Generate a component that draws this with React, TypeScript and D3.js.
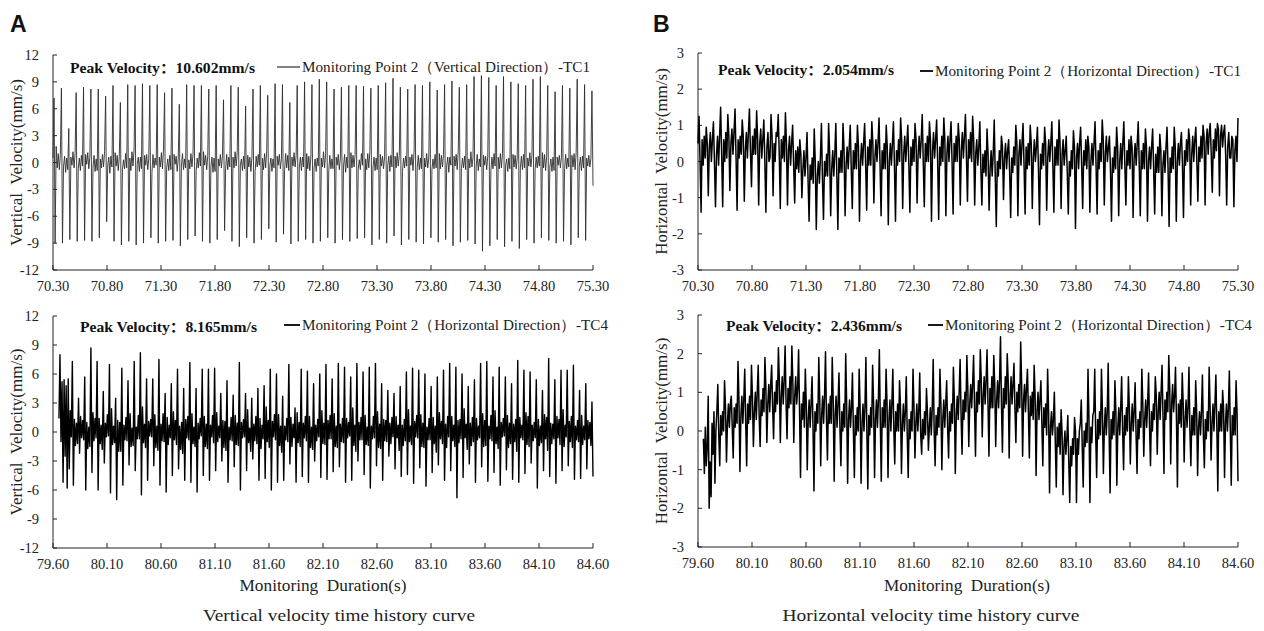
import React from 'react';
import * as d3 from 'd3';

// tick values
const topTimeTicks = [70.3, 70.8, 71.3, 71.8, 72.3, 72.8, 73.3, 73.8, 74.3, 74.8, 75.3];
const bottomTimeTicks = [79.6, 80.1, 80.6, 81.1, 81.6, 82.1, 82.6, 83.1, 83.6, 84.1, 84.6];
const verticalTicks = [-12, -9, -6, -3, 0, 3, 6, 9, 12];
const horizontalTicks = [-3, -2, -1, 0, 1, 2, 3];

// velocity samples (mm/s), equally spaced between first and last time
const vertTC1Span = [70.3, 75.3];
const vertTC1 = [
  0.5, 7.2, -9.0, 1.8, -0.6, 1.0, -0.8, 0.9, 8.3, -9.0, -0.4, 0.7, -1.1, 0.5,
  -0.8, 3.8, -8.6, 0.6, -0.3, 1.2, -0.6, 1.0, 7.8, -8.8, -0.7, 0.5, -0.9, 0.8,
  -0.4, 8.4, -8.7, 0.9, -0.2, 1.1, -0.7, 0.6, 8.2, -8.8, -0.5, 0.8, -1.0, 0.4,
  -0.9, 8.2, -8.4, 0.4, -0.6, 0.9, -0.5, 1.2, 7.4, -6.6, -0.3, 0.6, -1.2, 0.7,
  -0.5, 8.6, -8.8, 1.1, -0.4, 0.8, -0.9, 0.7, 6.7, -9.2, -0.8, 0.3, -0.7, 1.0,
  -0.6, 8.7, -8.8, 0.5, -0.9, 1.2, -0.4, 1.4, 8.6, -9.2, -0.2, 0.6, -1.0, 0.6,
  -0.7, 8.8, -9.0, 0.8, -0.3, 0.9, -0.8, 0.4, 8.6, -8.4, -1.1, 0.9, -0.6, 0.5,
  -0.3, 8.7, -9.0, 0.6, -0.5, 1.1, -0.7, 1.5, 7.8, -8.8, -0.6, 0.4, -0.9, 0.8,
  -0.8, 8.3, -8.7, 0.9, -0.2, 0.7, -1.0, 0.5, 6.5, -9.3, -0.4, 1.0, -0.8, 0.4,
  -0.6, 8.7, -8.6, 0.3, -0.7, 1.0, -0.5, 0.9, 8.6, -8.2, -0.9, 0.5, -0.6, 1.1,
  -0.4, 8.6, -8.8, 1.2, -0.3, 0.8, -0.8, 0.7, 8.2, -9.0, -0.5, 0.6, -1.1, 0.5,
  -1.0, 8.6, -8.6, 0.4, -0.4, 0.9, -0.6, 0.8, 7.0, -7.6, -0.7, 0.9, -0.8, 0.6,
  -0.5, 8.6, -8.8, 0.6, -0.6, 1.2, -0.4, 1.1, 8.4, -9.4, -0.3, 0.4, -0.9, 0.7,
  -0.7, 6.3, -8.4, 0.8, -0.5, 0.6, -1.0, 0.6, 8.2, -9.0, -1.0, 0.7, -0.5, 0.9,
  -0.3, 8.6, -8.6, 0.5, -0.8, 1.0, -0.6, 1.3, 7.5, -7.4, -0.4, 0.5, -1.0, 0.4,
  -0.6, 8.8, -8.9, 0.7, -0.3, 0.9, -0.7, 0.4, 8.7, -8.0, -0.8, 1.0, -0.6, 0.8,
  -0.9, 6.7, -9.1, 0.6, -0.4, 1.1, -0.5, 0.8, 8.6, -8.8, -0.5, 0.6, -0.9, 0.6,
  -0.5, 9.0, -8.6, 1.0, -0.7, 0.7, -0.9, 0.7, 8.7, -9.0, -0.6, 0.4, -1.0, 0.5,
  -0.4, 9.3, -8.8, 0.5, -0.5, 1.2, -0.6, 1.0, 9.0, -8.4, -0.9, 0.8, -0.7, 0.4,
  -0.7, 8.2, -9.0, 0.6, -0.3, 0.9, -0.8, 0.5, 8.4, -8.6, -0.4, 0.9, -1.1, 0.6,
  -0.6, 8.6, -8.8, 1.1, -0.6, 0.8, -0.5, 0.9, 8.6, -8.5, -0.7, 0.3, -0.8, 1.0,
  -0.3, 8.5, -8.4, 0.4, -0.8, 1.0, -0.6, 1.2, 8.3, -9.2, -0.5, 0.6, -0.9, 0.5,
  -0.8, 8.6, -8.6, 0.9, -0.4, 0.7, -0.7, 0.6, 8.9, -9.0, -0.3, 0.7, -1.0, 0.8,
  -0.5, 9.4, -8.2, 0.7, -0.6, 1.1, -0.4, 0.8, 8.4, -9.2, -1.0, 0.5, -0.6, 0.7,
  -0.4, 8.2, -8.6, 0.6, -0.3, 0.9, -0.9, 1.1, 8.7, -8.9, -0.6, 0.8, -0.8, 0.5,
  -0.7, 8.6, -9.1, 0.5, -0.5, 1.0, -0.6, 0.5, 9.0, -8.4, -0.8, 0.4, -0.7, 0.9,
  -0.6, 8.1, -8.9, 1.0, -0.7, 0.8, -0.5, 0.9, 8.7, -8.6, -0.4, 0.6, -1.1, 0.6,
  -0.3, 9.1, -9.3, 0.7, -0.4, 0.9, -0.8, 1.3, 8.4, -8.9, -0.7, 0.5, -0.6, 0.7,
  -0.8, 8.7, -8.7, 0.4, -0.6, 1.2, -0.5, 0.6, 9.6, -9.1, -0.5, 0.9, -0.9, 0.4,
  -0.5, 9.7, -9.9, 0.8, -0.3, 0.7, -0.8, 0.7, 9.5, -9.3, -0.9, 0.6, -0.7, 1.0,
  -0.4, 8.6, -8.6, 0.6, -0.7, 1.0, -0.6, 1.0, 9.6, -9.4, -0.3, 0.4, -1.0, 0.5,
  -0.7, 9.0, -8.8, 0.9, -0.5, 0.8, -0.7, 0.5, 8.8, -9.6, -0.6, 0.7, -0.8, 0.9,
  -0.6, 8.6, -8.6, 0.5, -0.4, 1.1, -0.5, 0.8, 9.3, -9.0, -0.8, 0.6, -0.6, 0.7,
  -0.4, 9.6, -8.4, 1.1, -0.6, 0.9, -0.9, 0.7, 8.6, -8.7, -0.5, 0.4, -1.0, 0.6,
  -0.9, 7.9, -9.0, 0.6, -0.3, 0.8, -0.6, 0.6, 8.6, -8.8, -0.7, 0.9, -0.7, 0.5,
  -0.5, 8.3, -9.2, 0.8, -0.5, 1.0, -0.8, 1.1, 9.3, -8.4, -0.4, 0.6, -0.9, 0.7,
  -0.6, 8.7, -8.7, 0.5, -0.4, 0.8, -0.5, 0.4, 8.0, -2.6,
];

const vertTC4Span = [79.655, 84.6];
const vertTC4 = [
  1.4, 8.0, -1.0, 5.2, -5.2, 5.4, -2.5, 4.8, -5.8, 5.5, -3.8, 2.2,
  -0.5, 7.3, -5.5, 1.3, -1.4, 0.9, -1.2, 3.5, -2.2, 1.6, -0.6, 1.2,
  -0.8, 5.7, -6.0, 1.0, -1.7, 0.5, -1.5, 8.7, -4.2, 2.0, -0.9, 1.4,
  -0.6, 7.3, -6.0, 1.4, -1.2, 0.7, -1.8, 4.2, -3.2, 0.9, -0.5, 1.8,
  -0.4, 7.0, -6.3, 2.4, -1.3, 0.6, -1.1, 3.5, -7.0, 1.2, -2.0, 1.0,
  -2.0, 6.6, -5.5, 0.7, -0.8, 1.5, -0.9, 5.3, -3.4, 1.9, -1.5, 0.4,
  -1.4, 7.3, -4.0, 0.5, -0.7, 1.7, -0.7, 8.2, -6.5, 2.6, -1.1, 0.8,
  -1.6, 5.5, -5.0, 1.1, -0.4, 1.3, -0.5, 5.5, -3.5, 1.8, -1.6, 0.6,
  -1.9, 7.5, -5.5, 0.8, -0.9, 1.9, -1.0, 4.0, -6.2, 1.5, -1.3, 0.7,
  -0.6, 5.0, -4.5, 2.1, -0.8, 1.2, -1.3, 6.5, -3.8, 0.6, -1.8, 1.0,
  -2.2, 4.5, -5.0, 1.3, -0.6, 1.6, -0.8, 7.2, -5.2, 1.9, -1.2, 0.5,
  -1.5, 4.5, -6.2, 0.9, -0.7, 1.4, -0.4, 6.5, -4.5, 1.6, -1.5, 0.8,
  -1.7, 6.5, -5.0, 0.7, -0.5, 1.7, -1.1, 6.6, -4.0, 2.0, -1.0, 0.6,
  -0.6, 4.0, -3.0, 1.2, -1.6, 1.1, -1.9, 5.3, -5.2, 0.5, -0.8, 1.5,
  -0.9, 3.8, -3.6, 1.7, -1.3, 0.9, -1.4, 7.2, -6.0, 1.0, -0.6, 1.3,
  -0.5, 4.0, -4.0, 2.3, -1.1, 0.4, -2.0, 3.5, -2.8, 0.8, -0.9, 1.6,
  -1.2, 4.5, -5.0, 1.4, -1.7, 0.7, -0.7, 4.8, -4.8, 2.6, -1.0, 1.2,
  -1.6, 6.5, -6.0, 1.1, -0.5, 1.8, -0.8, 6.0, -5.2, 1.8, -1.4, 0.6,
  -2.1, 3.7, -5.0, 0.6, -0.8, 1.4, -1.0, 7.0, -3.3, 1.5, -1.5, 0.8,
  -0.6, 2.5, -5.2, 2.0, -1.1, 1.0, -1.5, 6.5, -4.6, 0.9, -0.6, 1.6,
  -0.9, 6.3, -5.2, 1.6, -1.6, 0.5, -1.8, 5.0, -3.0, 0.7, -0.9, 1.3,
  -0.5, 6.0, -4.7, 2.2, -1.2, 0.9, -1.3, 7.0, -4.9, 1.2, -0.7, 1.7,
  -0.7, 5.5, -4.1, 1.9, -1.5, 0.6, -1.6, 7.1, -3.6, 0.8, -1.0, 1.4,
  -1.1, 6.7, -5.2, 1.4, -0.6, 1.0, -0.4, 5.7, -5.0, 2.5, -1.4, 0.7,
  -2.0, 7.1, -3.0, 1.0, -0.8, 1.5, -0.8, 6.2, -4.4, 1.7, -1.3, 0.5,
  -1.4, 6.7, -5.8, 0.6, -0.7, 1.6, -0.6, 7.1, -3.5, 2.1, -1.6, 0.8,
  -1.7, 5.0, -5.0, 1.3, -0.9, 1.2, -1.0, 4.3, -2.5, 0.9, -1.2, 1.5,
  -0.5, 4.0, -3.8, 1.6, -0.6, 0.7, -1.9, 4.7, -4.6, 0.7, -1.4, 1.3,
  -0.9, 6.2, -4.4, 2.3, -1.0, 0.6, -1.3, 6.6, -5.3, 1.1, -0.5, 1.7,
  -0.6, 6.4, -3.7, 1.8, -1.5, 0.9, -1.6, 6.0, -5.6, 0.5, -0.8, 1.4,
  -0.8, 4.7, -4.2, 1.5, -1.2, 0.6, -2.1, 5.7, -3.4, 2.0, -0.7, 1.1,
  -1.2, 6.4, -5.0, 0.8, -1.6, 1.6, -0.5, 7.1, -4.0, 1.6, -0.9, 0.7,
  -1.5, 6.7, -6.8, 1.2, -1.1, 1.3, -0.7, 6.0, -4.7, 2.4, -0.6, 0.8,
  -1.8, 4.7, -3.3, 0.9, -1.4, 1.5, -1.0, 5.4, -5.2, 1.4, -0.8, 0.6,
  -0.6, 7.1, -3.6, 1.9, -1.5, 1.2, -1.4, 7.3, -5.1, 0.6, -0.7, 1.7,
  -0.9, 5.7, -4.2, 2.2, -1.2, 0.5, -1.7, 6.7, -5.5, 1.0, -0.5, 1.4,
  -0.4, 5.7, -3.9, 1.7, -1.6, 0.9, -1.2, 5.0, -4.9, 0.8, -1.0, 1.3,
  -2.0, 7.4, -5.2, 1.5, -0.6, 0.7, -0.8, 6.4, -4.3, 2.0, -1.3, 1.6,
  -1.5, 6.2, -3.2, 0.7, -0.9, 1.0, -0.6, 5.4, -5.8, 1.3, -1.4, 0.6,
  -1.1, 4.3, -4.0, 1.8, -0.7, 1.5, -1.9, 7.6, -4.6, 0.9, -1.2, 0.8,
  -0.7, 5.4, -5.3, 1.6, -0.6, 1.3, -1.3, 6.4, -4.0, 2.3, -1.5, 0.7,
  -0.5, 6.4, -3.5, 1.1, -1.0, 1.6, -1.6, 6.9, -4.9, 0.6, -0.8, 1.2,
  -1.0, 4.3, -4.8, 1.7, -1.3, 0.6, -0.8, 5.0, -3.8, 1.2, -0.7, 1.0,
  -1.4, 3.1, -4.6,
];

const horTC1Span = [70.3, 75.3];
const horTC1 = [
  0.5, 1.25, 0.0, -1.4, 0.6, -0.1, 0.7, 0.1, 0.95, 0.5, -0.95, 0.4, 0.8, 0.0,
  0.6, 1.1, 0.0, -1.25, 0.2, 0.7, -0.1, 0.7, 1.5, 0.2, -1.25, 0.6, 0.0, 0.8,
  0.1, 1.3, 0.7, -0.8, 0.5, 0.9, 0.2, 0.8, 1.45, 0.1, -1.35, 0.6, 0.1, 0.7,
  0.2, 1.15, 0.7, -1.1, 0.3, 0.8, 0.1, 0.8, 1.45, 0.3, -0.7, 0.7, 0.2, 0.9,
  0.2, 1.4, 0.6, -1.2, 0.5, 0.9, 0.1, 0.6, 1.15, 0.0, -1.4, 0.4, 0.8, 0.0,
  0.1, 1.3, 0.7, -0.95, 0.5, 0.0, 0.8, 0.7, 1.3, 0.2, -1.3, 0.6, 0.1, 0.7,
  0.0, 1.35, 0.5, -1.2, 0.3, 0.7, -0.1, 0.5, 1.0, -0.1, -1.15, 0.3, -0.2, 0.4,
  -0.3, 0.6, 0.2, -1.0, -0.2, 0.3, -0.4, 0.1, 0.8, -0.5, -1.65, -0.1, -0.5, 0.1,
  -0.6, 0.9, 0.0, -1.88, -0.4, 0.0, -0.6, 0.1, 1.05, -0.5, -1.6, 0.0, -0.4, 0.2,
  -0.4, 1.05, 0.2, -1.5, -0.2, 0.3, -0.4, 0.2, 1.05, -0.4, -1.88, 0.1, -0.3, 0.3,
  -0.3, 1.05, 0.3, -1.5, -0.1, 0.4, -0.2, 0.4, 1.0, -0.2, -1.3, 0.3, -0.2, 0.5,
  -0.2, 1.0, 0.4, -1.65, 0.0, 0.5, -0.1, 0.5, 1.05, -0.1, -1.35, 0.4, -0.1, 0.6,
  -0.1, 1.1, 0.5, -1.15, 0.1, 0.6, 0.0, 0.5, 1.2, -0.1, -1.5, 0.3, -0.2, 0.5,
  -0.2, 1.0, 0.4, -1.75, 0.0, 0.5, -0.1, 0.5, 1.1, -0.1, -1.65, 0.3, -0.1, 0.6,
  0.0, 1.2, 0.6, -1.3, 0.2, 0.7, 0.0, 0.5, 1.0, -0.1, -1.4, 0.4, -0.1, 0.6,
  0.0, 1.05, 0.6, -1.15, 0.2, 0.7, 0.1, 0.6, 1.3, 0.0, -1.25, 0.5, 0.0, 0.7,
  0.0, 1.1, 0.6, -1.65, 0.3, 0.8, 0.1, 0.6, 1.15, 0.0, -1.6, 0.4, -0.1, 0.7,
  0.0, 1.2, 0.6, -1.5, 0.2, 0.7, 0.0, 0.6, 1.1, 0.0, -1.45, 0.5, 0.0, 0.7,
  0.0, 1.05, 0.6, -1.2, 0.3, 0.8, 0.1, 0.7, 1.3, 0.1, -1.1, 0.6, 0.1, 0.8,
  0.0, 1.25, 0.6, -1.2, 0.2, 0.6, -0.1, 0.4, 1.1, -0.2, -1.2, 0.2, -0.3, 0.3,
  -0.4, 0.9, 0.2, -1.35, -0.2, 0.3, -0.4, 0.2, 1.15, -0.4, -1.8, 0.0, -0.4, 0.3,
  -0.2, 0.7, 0.4, -1.05, 0.1, 0.5, -0.2, 0.3, 0.6, -0.3, -1.55, 0.1, -0.3, 0.4,
  -0.1, 1.0, 0.5, -1.5, 0.2, 0.6, -0.1, 0.5, 1.05, -0.1, -1.45, 0.4, -0.2, 0.5,
  -0.1, 1.0, 0.5, -1.3, 0.1, 0.6, 0.0, 0.4, 0.95, -0.2, -1.75, 0.2, -0.2, 0.5,
  -0.1, 0.95, 0.5, -1.35, 0.1, 0.6, 0.0, 0.5, 1.1, -0.1, -1.4, 0.4, -0.1, 0.6,
  -0.1, 1.15, 0.5, -1.3, 0.2, 0.6, -0.1, 0.3, 0.7, -0.3, -1.45, 0.0, -0.4, 0.3,
  -0.2, 0.85, 0.4, -1.85, 0.1, 0.5, -0.2, 0.5, 0.95, -0.1, -1.3, 0.3, -0.1, 0.6,
  -0.2, 0.7, 0.4, -1.4, 0.0, 0.5, -0.1, 0.5, 1.1, -0.1, -1.45, 0.3, -0.2, 0.5,
  0.0, 1.15, 0.6, -1.2, 0.2, 0.7, 0.0, 0.4, 0.7, -0.2, -1.65, 0.1, -0.3, 0.4,
  -0.2, 0.95, 0.4, -1.5, 0.0, 0.5, -0.2, 0.5, 1.1, -0.1, -1.2, 0.3, -0.1, 0.6,
  -0.2, 0.7, 0.4, -1.55, 0.1, 0.5, -0.1, 0.5, 1.1, -0.1, -1.5, 0.3, -0.2, 0.5,
  -0.2, 0.9, 0.4, -1.65, 0.0, 0.4, -0.2, 0.4, 0.9, -0.2, -1.45, 0.2, -0.3, 0.4,
  -0.3, 0.75, 0.3, -1.5, -0.1, 0.3, -0.3, 0.4, 0.95, -0.2, -1.8, 0.1, -0.3, 0.4,
  -0.2, 0.95, 0.4, -1.65, 0.0, 0.5, -0.1, 0.5, 0.8, -0.1, -1.55, 0.3, -0.1, 0.6,
  0.0, 0.9, 0.6, -1.2, 0.2, 0.7, 0.0, 0.6, 0.95, 0.0, -1.1, 0.4, 0.0, 0.7,
  0.1, 1.0, 0.7, -1.2, 0.5, 0.9, 0.2, 0.8, 1.05, 0.2, -0.85, 0.6, 0.1, 0.9,
  0.3, 1.05, 0.9, -0.95, 0.7, 1.0, 0.4, 0.8, 1.0, 0.2, -1.2, 0.4, 0.8, 0.1,
  0.1, 0.7, 0.6, -1.25, 0.3, 0.7, 0.0, 1.2,
];

const horTC4Span = [79.65, 84.6];
const horTC4 = [
  -0.2, -1.1, 0.1, -0.9, -0.4, 0.9, -2.0, -0.8, -1.7, 0.2, -0.6, 0.5, -1.35, 0.0,
  0.5, 1.2, -0.1, -0.9, 0.4, -0.1, 0.5, 0.0, 1.3, 0.6, -0.8, 0.2, 0.7, 0.1,
  0.7, 0.9, 0.1, -0.7, 0.6, 0.1, 0.7, 0.2, 1.8, 0.8, -1.05, 0.4, 0.9, 0.2,
  0.8, 1.6, 0.2, -0.9, 0.7, 0.2, 0.9, 0.3, 1.7, 0.9, -0.4, 0.5, 1.0, 0.3,
  1.0, 1.7, 0.4, -0.4, 0.8, 0.4, 1.1, 0.5, 1.9, 1.1, -0.3, 0.7, 1.2, 0.5,
  1.2, 1.7, 0.6, -0.2, 1.0, 0.5, 1.3, 0.7, 2.15, 1.3, -0.3, 0.9, 1.4, 0.7,
  1.3, 2.2, 0.7, -0.2, 1.1, 0.6, 1.4, 0.7, 2.2, 1.3, -0.3, 0.9, 1.4, 0.7,
  1.1, 2.1, 0.5, -1.2, 0.7, 0.3, 1.0, 0.1, 1.6, 0.7, -1.0, 0.3, 0.8, 0.1,
  0.7, 1.4, 0.1, -1.55, 0.5, 0.0, 0.7, 0.2, 1.9, 0.8, -0.9, 0.4, 0.9, 0.2,
  0.9, 2.05, 0.3, -0.75, 0.7, 0.2, 0.9, 0.2, 1.9, 0.8, -1.3, 0.4, 0.9, 0.1,
  0.7, 1.5, 0.1, -0.9, 0.5, 0.0, 0.7, 0.1, 2.0, 0.7, -1.35, 0.3, 0.8, 0.1,
  0.6, 1.5, 0.0, -1.2, 0.4, -0.1, 0.6, 0.0, 1.6, 0.6, -1.35, 0.2, 0.7, 0.0,
  0.6, 1.9, 0.0, -1.5, 0.4, -0.1, 0.6, 0.1, 1.7, 0.7, -1.2, 0.3, 0.8, 0.1,
  0.8, 2.1, 0.2, -1.3, 0.6, 0.1, 0.8, 0.1, 1.6, 0.7, -1.2, 0.3, 0.8, 0.0,
  0.7, 1.6, 0.1, -0.85, 0.5, 0.0, 0.7, 0.0, 1.3, 0.6, -1.1, 0.2, 0.7, 0.0,
  0.5, 1.4, -0.1, -1.2, 0.3, -0.2, 0.5, 0.0, 1.6, 0.6, -0.7, 0.2, 0.7, 0.0,
  0.5, 1.5, -0.1, -0.6, 0.3, -0.2, 0.5, -0.1, 1.1, 0.5, -0.5, 0.1, 0.6, -0.1,
  0.6, 1.85, 0.0, -0.9, 0.4, -0.1, 0.6, 0.1, 1.6, 0.7, -1.0, 0.3, 0.8, 0.1,
  0.7, 1.3, 0.1, -0.7, 0.5, 0.0, 0.7, 0.2, 1.65, 0.8, -1.1, 0.4, 0.9, 0.3,
  1.0, 1.85, 0.4, -0.6, 0.8, 0.3, 1.0, 0.5, 1.95, 1.1, -0.4, 0.7, 1.2, 0.6,
  1.2, 1.95, 0.6, -0.65, 1.0, 0.5, 1.3, 0.7, 2.1, 1.3, -0.15, 0.9, 1.4, 0.7,
  1.3, 2.1, 0.7, -0.65, 1.1, 0.6, 1.4, 0.6, 1.95, 1.2, -0.4, 0.8, 1.3, 0.6,
  1.3, 2.44, 0.7, -0.55, 1.1, 0.6, 1.4, 0.7, 2.0, 1.3, -0.7, 0.9, 1.4, 0.7,
  1.2, 1.75, 0.6, -0.3, 1.0, 0.5, 1.2, 0.6, 2.3, 1.2, -0.65, 0.8, 1.2, 0.5,
  1.1, 1.6, 0.5, -0.7, 0.9, 0.4, 1.0, 0.3, 1.7, 0.9, -1.15, 0.5, 1.0, 0.3,
  0.8, 1.3, 0.2, -0.9, 0.6, 0.1, 0.7, -0.1, 1.6, 0.5, -1.6, 0.1, 0.5, -0.1,
  0.3, 1.0, -0.3, -1.45, 0.1, -0.4, 0.2, -0.6, 0.55, 0.0, -1.65, -0.4, 0.0, -0.6,
  -0.2, 0.4, -0.8, -1.85, -0.4, -0.9, -0.2, -0.6, 0.35, 0.0, -1.85, -0.2, -0.6, 0.0,
  0.2, 0.8, -0.4, -1.45, 0.0, -0.4, 0.2, -0.3, 1.6, 0.3, -1.85, 0.1, -0.3, 0.4,
  0.5, 1.6, -0.1, -1.2, 0.3, -0.2, 0.5, -0.1, 1.6, 0.5, -1.1, 0.1, 0.6, -0.1,
  0.5, 1.75, -0.1, -1.6, 0.3, -0.2, 0.5, -0.1, 1.3, 0.5, -1.4, 0.1, 0.6, -0.1,
  0.6, 1.4, 0.0, -1.0, 0.4, -0.1, 0.6, 0.0, 1.4, 0.6, -0.85, 0.2, 0.7, 0.0,
  0.5, 1.25, -0.1, -1.1, 0.3, -0.2, 0.5, 0.1, 1.6, 0.7, -0.65, 0.3, 0.8, 0.1,
  0.7, 1.5, 0.1, -0.9, 0.5, 0.0, 0.7, 0.3, 1.4, 0.9, -0.6, 0.5, 1.0, 0.3,
  1.0, 1.7, 0.4, -1.1, 0.8, 0.3, 1.0, 0.5, 1.95, 1.1, -0.85, 0.7, 1.2, 0.5,
  0.9, 1.65, 0.3, -1.45, 0.7, 0.2, 0.8, 0.1, 1.5, 0.7, -0.8, 0.3, 0.8, 0.1,
  0.6, 1.65, 0.0, -0.9, 0.4, -0.1, 0.6, -0.1, 1.3, 0.5, -1.15, 0.1, 0.5, -0.1,
  0.5, 1.45, -0.1, -0.95, 0.3, -0.2, 0.5, 0.0, 1.65, 0.6, -0.75, 0.2, 0.7, 0.0,
  0.7, 1.45, 0.1, -1.55, 0.5, 0.0, 0.7, 0.0, 1.05, 0.6, -1.2, 0.2, 0.7, 0.0,
  0.6, 1.55, 0.0, -1.4, 0.4, -0.1, 0.6, -0.1, 1.3, 0.5, -1.3,
];

const serif = '"Liberation Serif", "Times New Roman", serif';
const cjk = '"Noto Sans CJK SC", sans-serif';

const panels = [
  {
    key: 'a1', values: vertTC1, span: vertTC1Span, timeTicks: topTimeTicks, valueTicks: verticalTicks,
    x0: 53, x1: 593, yTop: 55, yBottom: 270, stroke: '#2e2e2e', strokeWidth: 0.9, legStroke: 1.2,
    peakValue: '10.602mm/s', peakX: 70, peakY: 73, peakW: 185,
    legend: 'Monitoring Point 2（Vertical Direction）-TC1', legLine: [277, 300], legX: 302, legY: 72, legW: 288,
    yTitle: 'Vertical  Velocity(mm/s)', yTitleX: 22,
  },
  {
    key: 'a2', values: vertTC4, span: vertTC4Span, timeTicks: bottomTimeTicks, valueTicks: verticalTicks,
    x0: 53, x1: 593, yTop: 316, yBottom: 548, stroke: '#000', strokeWidth: 1.4, legStroke: 1.8,
    peakValue: '8.165mm/s', peakX: 80, peakY: 332, peakW: 177,
    legend: 'Monitoring Point 2（Horizontal Direction）-TC4', legLine: [284, 300], legX: 302, legY: 330, legW: 306,
    yTitle: 'Vertical  Velocity(mm/s)', yTitleX: 22,
  },
  {
    key: 'b1', values: horTC1, span: horTC1Span, timeTicks: topTimeTicks, valueTicks: horizontalTicks,
    x0: 698, x1: 1238, yTop: 53, yBottom: 270, stroke: '#000', strokeWidth: 1.5, legStroke: 1.8,
    peakValue: '2.054mm/s', peakX: 718, peakY: 75, peakW: 176,
    legend: 'Monitoring Point 2（Horizontal Direction）-TC1', legLine: [920, 933], legX: 935, legY: 76, legW: 306,
    yTitle: 'Horizontal  Velocity(mm/s)', yTitleX: 667,
  },
  {
    key: 'b2', values: horTC4, span: horTC4Span, timeTicks: bottomTimeTicks, valueTicks: horizontalTicks,
    x0: 698, x1: 1238, yTop: 315, yBottom: 547, stroke: '#000', strokeWidth: 1.5, legStroke: 1.8,
    peakValue: '2.436mm/s', peakX: 726, peakY: 331, peakW: 176,
    legend: 'Monitoring Point 2（Horizontal Direction）-TC4', legLine: [928, 943], legX: 945, legY: 330, legW: 307,
    yTitle: 'Horizontal  Velocity(mm/s)', yTitleX: 667,
  },
];

function Panel({ p }) {
  const x = d3.scaleLinear()
    .domain([p.timeTicks[0], p.timeTicks[p.timeTicks.length - 1]])
    .range([p.x0, p.x1]);
  const y = d3.scaleLinear()
    .domain([p.valueTicks[0], p.valueTicks[p.valueTicks.length - 1]])
    .range([p.yBottom, p.yTop]);
  const t = d3.scaleLinear().domain([0, p.values.length - 1]).range(p.span);
  const line = d3.line<number>()
    .x((d, i) => x(t(i)))
    .y(d => y(d));
  const legendLift = 5;

  return (
    <g>
      {/* axes */}
      <line x1={p.x0} x2={p.x0} y1={p.yTop} y2={p.yBottom} stroke="#222" strokeWidth={1} />
      <line x1={p.x0} x2={p.x1} y1={p.yBottom} y2={p.yBottom} stroke="#222" strokeWidth={1} />
      {p.valueTicks.map(v => (
        <g key={'y' + v}>
          <line x1={p.x0} x2={p.x0 + 4} y1={y(v)} y2={y(v)} stroke="#222" />
          <text x={p.x0 - 14} y={y(v)} dy="0.35em" textAnchor="end" fontSize={14.5}
            fontFamily={serif} fill="#222">{String(v)}</text>
        </g>
      ))}
      {p.timeTicks.map(v => (
        <g key={'x' + v}>
          <line x1={x(v)} x2={x(v)} y1={p.yBottom} y2={p.yBottom - 5} stroke="#222" />
          <text x={x(v)} y={p.yBottom + 21} textAnchor="middle" fontSize={14.5}
            fontFamily={serif} fill="#222">{v.toFixed(2)}</text>
        </g>
      ))}

      {/* signal */}
      <path d={line(p.values) || ''} fill="none" stroke={p.stroke} strokeWidth={p.strokeWidth}
        strokeLinejoin="round" />

      {/* annotations */}
      <text x={p.peakX} y={p.peakY} fontSize={14} fontWeight="bold" fontFamily={serif}
        textLength={p.peakW} lengthAdjust="spacingAndGlyphs" fill="#111">
        Peak Velocity<tspan fontFamily={cjk}>：</tspan>{p.peakValue}
      </text>
      <line x1={p.legLine[0]} x2={p.legLine[1]} y1={p.legY - legendLift} y2={p.legY - legendLift}
        stroke={p.stroke} strokeWidth={p.legStroke} />
      <text x={p.legX} y={p.legY} fontSize={14.5} fontFamily={serif} textLength={p.legW}
        lengthAdjust="spacingAndGlyphs" fill="#222">{p.legend}</text>

      <text transform={`translate(${p.yTitleX},${(p.yTop + p.yBottom) / 2}) rotate(-90)`}
        textAnchor="middle" fontSize={17} fontFamily={serif} fill="#222"
        style={{ whiteSpace: 'pre' }}>{p.yTitle}</text>
    </g>
  );
}

export default function App() {
  return (
    <svg width={1264} height={631} viewBox="0 0 1264 631"
      style={{ position: 'absolute', left: 0, top: 0, background: '#fff' }}>
      <rect width={1264} height={631} fill="#fff" />
      <text x={10} y={32} fontSize={23} fontWeight="bold" fontFamily='"Liberation Sans", Arial, sans-serif'
        fill="#111">A</text>
      <text x={653} y={32} fontSize={23} fontWeight="bold" fontFamily='"Liberation Sans", Arial, sans-serif'
        fill="#111">B</text>

      {panels.map(p => <Panel key={p.key} p={p} />)}

      <text x={323} y={591} textAnchor="middle" fontSize={16.5} fontFamily={serif} fill="#222"
        textLength={167} lengthAdjust="spacingAndGlyphs" style={{ whiteSpace: 'pre' }}>Monitoring  Duration(s)</text>
      <text x={967} y={591} textAnchor="middle" fontSize={16.5} fontFamily={serif} fill="#222"
        textLength={166} lengthAdjust="spacingAndGlyphs" style={{ whiteSpace: 'pre' }}>Monitoring  Duration(s)</text>

      <text x={339} y={621} textAnchor="middle" fontSize={17.5} fontFamily={serif} fill="#222"
        textLength={272} lengthAdjust="spacingAndGlyphs">Vertical velocity time history curve</text>
      <text x={931} y={621} textAnchor="middle" fontSize={17.5} fontFamily={serif} fill="#222"
        textLength={297} lengthAdjust="spacingAndGlyphs">Horizontal velocity time history curve</text>
    </svg>
  );
}
